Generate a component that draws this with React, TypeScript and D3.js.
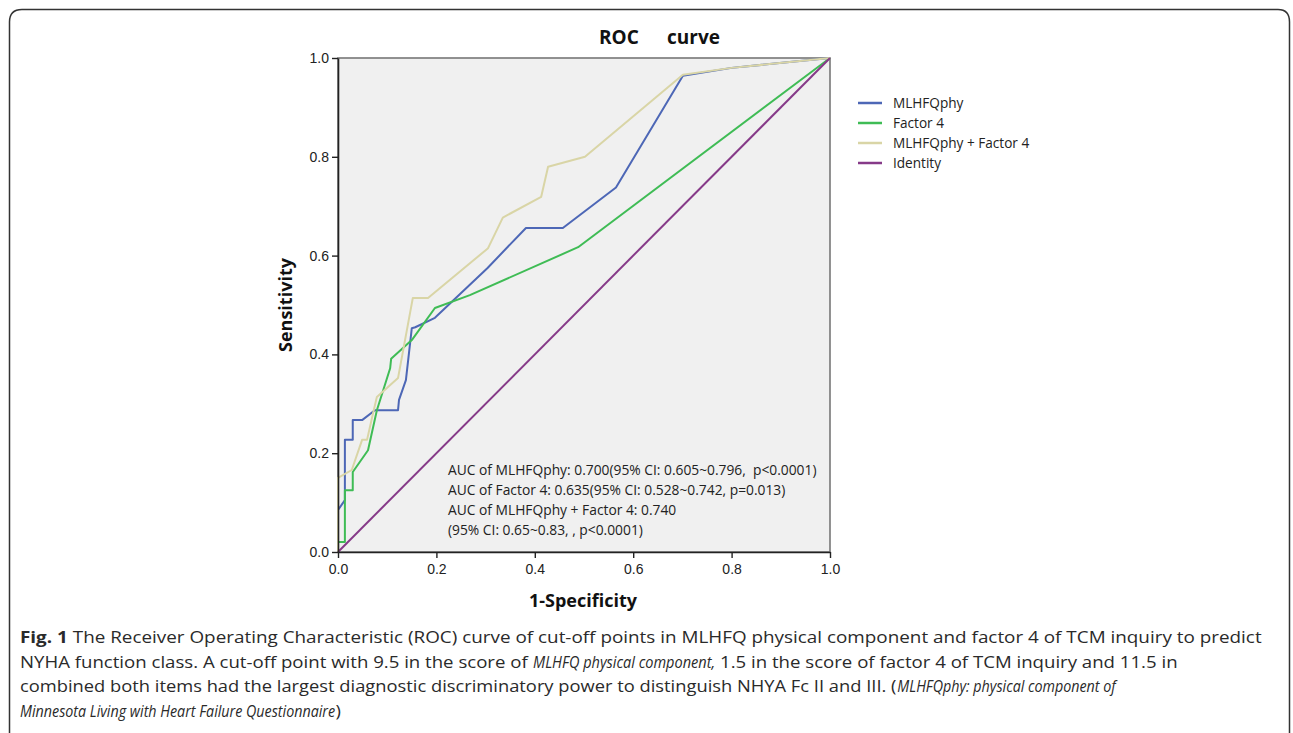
import React, { useEffect, useRef } from 'react';
import * as d3 from 'd3';

// ROC points: [1-specificity, sensitivity]
const mlhfqPhy: [number, number][] = [
  [0, 0], [0, 0.085], [0.014, 0.105], [0.014, 0.227], [0.03, 0.227], [0.03, 0.267],
  [0.049, 0.267], [0.075, 0.287], [0.122, 0.287], [0.124, 0.308], [0.138, 0.348],
  [0.15, 0.453], [0.157, 0.455], [0.197, 0.474], [0.304, 0.575], [0.382, 0.656],
  [0.457, 0.656], [0.565, 0.738], [0.701, 0.964], [0.8, 0.98], [1, 1],
];
const factor4: [number, number][] = [
  [0, 0], [0, 0.02], [0.014, 0.02], [0.014, 0.125], [0.03, 0.125], [0.03, 0.162],
  [0.061, 0.206], [0.079, 0.287], [0.106, 0.372], [0.108, 0.391], [0.15, 0.429],
  [0.197, 0.494], [0.268, 0.52], [0.488, 0.617], [1, 1],
];
const combined: [number, number][] = [
  [0, 0], [0, 0.15], [0.028, 0.166], [0.049, 0.227], [0.059, 0.227], [0.069, 0.271],
  [0.079, 0.314], [0.122, 0.352], [0.152, 0.514], [0.183, 0.514], [0.305, 0.615],
  [0.335, 0.677], [0.413, 0.719], [0.427, 0.78], [0.502, 0.8], [0.701, 0.966],
  [0.8, 0.98], [1, 1],
];
const identity: [number, number][] = [[0, 0], [1, 1]];

const seriesNames = ['MLHFQphy', 'Factor 4', 'MLHFQphy + Factor 4', 'Identity'];
const seriesColors = ['#4d67b6', '#3fbc55', '#d9d5a6', '#863a88'];
const axisTicks = [0, 0.2, 0.4, 0.6, 0.8, 1.0];

const aucLines = [
  'AUC of MLHFQphy: 0.700(95% CI: 0.605~0.796,  p<0.0001)',
  'AUC of Factor 4: 0.635(95% CI: 0.528~0.742, p=0.013)',
  'AUC of MLHFQphy + Factor 4: 0.740',
  '(95% CI: 0.65~0.83, , p<0.0001)',
];

// caption lines: [text, bold?, italic?] segments, plus the width each line takes (0 = same squeeze as the line above)
const captionLines: { parts: [string, boolean, boolean][]; len: number }[] = [
  { parts: [['Fig. 1', true, false], [' The Receiver Operating Characteristic (ROC) curve of cut-off points in MLHFQ physical component and factor 4 of TCM inquiry to predict', false, false]], len: 1242 },
  { parts: [['NYHA function class. A cut-off point with 9.5 in the score of ', false, false], ['MLHFQ physical component,', false, true], [' 1.5 in the score of factor 4 of TCM inquiry and 11.5 in', false, false]], len: 1158 },
  { parts: [['combined both items had the largest diagnostic discriminatory power to distinguish NHYA Fc II and III. (', false, false], ['MLHFQphy: physical component of', false, true]], len: 1096 },
  { parts: [['Minnesota Living with Heart Failure Questionnaire', false, true], [')', false, false]], len: 0 },
];
const italicSqueeze = 0.78; // the figure's italic face is narrower than its roman

const W = 1293;
const H = 733;
const margin = { left: 338, top: 58, right: 830, bottom: 552 };
const sans = '"Open Sans", sans-serif';

const App = () => {
  const xAxisRef = useRef<SVGGElement>(null);
  const yAxisRef = useRef<SVGGElement>(null);
  const captionRef = useRef<SVGGElement>(null);

  const x = d3.scaleLinear().domain([0, 1]).range([margin.left, margin.right]);
  const y = d3.scaleLinear().domain([0, 1]).range([margin.bottom, margin.top]);
  const line = d3.line<[number, number]>().x(d => x(d[0])).y(d => y(d[1]));
  const series = [mlhfqPhy, factor4, combined, identity];

  useEffect(() => {
    const fmt = d3.format('.1f');
    const xa = d3.select(xAxisRef.current!);
    xa.call(d3.axisBottom(x).tickValues(axisTicks).tickFormat(d => fmt(d as number)).tickSize(6).tickSizeOuter(0) as any);
    const ya = d3.select(yAxisRef.current!);
    ya.call(d3.axisLeft(y).tickValues(axisTicks).tickFormat(d => fmt(d as number)).tickSize(6).tickSizeOuter(0) as any);
    [xa, ya].forEach(g => {
      g.select('.domain').attr('stroke', '#222').attr('stroke-width', 1.6);
      g.selectAll('.tick line').attr('stroke', '#222').attr('stroke-width', 1.4);
      g.selectAll('.tick text')
        .attr('fill', '#222')
        .attr('font-family', '"Liberation Sans", Arial, sans-serif')
        .attr('font-size', 14);
    });
    xa.selectAll('.tick text').attr('dy', '0.9em');

    // lay out caption segments one after another, squeezed to the width each line has in the figure
    let k = 1;
    d3.select(captionRef.current!).selectAll<SVGGElement, unknown>('g.cap-line').each(function (_, i) {
      const segs = Array.from(this.querySelectorAll('text')) as SVGTextElement[];
      const ws = segs.map(s => s.getComputedTextLength());
      const f = captionLines[i].parts.map(p => (p[2] ? italicSqueeze : 1));
      const natural = d3.sum(ws, (w, j) => w * f[j]);
      if (captionLines[i].len > 0) k = captionLines[i].len / natural;
      let offset = 20;
      segs.forEach((s, j) => {
        d3.select(s).attr('transform', `translate(${offset},${643 + i * 24.5}) scale(${k * f[j]},1)`);
        offset += ws[j] * k * f[j];
      });
    });
  }, []);

  return (
    <svg width={W} height={H} style={{ position: 'absolute', left: 0, top: 0, background: '#fff' }}>
      {/* outer rounded frame */}
      <path
        d={`M9.5,${H + 10} L9.5,22 Q9.5,9.5 22,9.5 L1278,9.5 Q1289.5,9.5 1289.5,22 L1289.5,${H + 10}`}
        fill="none"
        stroke="#333"
        strokeWidth={1.5}
      />

      {/* title */}
      <text y={44} fontFamily={sans} fontWeight="bold" fontSize={19} fill="#111">
        <tspan x={599}>ROC</tspan>
        <tspan x={667}>curve</tspan>
      </text>

      {/* plot area */}
      <rect x={margin.left} y={margin.top} width={margin.right - margin.left} height={margin.bottom - margin.top}
        fill="#f0f0f0" stroke="#777" strokeWidth={1.6} />

      {series.map((s, i) => (
        <path key={i} d={line(s) || ''} fill="none" stroke={seriesColors[i]} strokeWidth={2} strokeLinejoin="round" />
      ))}

      <g ref={xAxisRef} transform={`translate(0,${margin.bottom})`} />
      <g ref={yAxisRef} transform={`translate(${margin.left},0)`} />

      {/* axis titles */}
      <text x={583} y={607} textAnchor="middle" fontFamily={sans} fontWeight="bold" fontSize={18} fill="#111">
        1-Specificity
      </text>
      <text transform={`translate(292,${(margin.top + margin.bottom) / 2}) rotate(-90)`} textAnchor="middle"
        fontFamily={sans} fontWeight="bold" fontSize={18} fill="#111">
        Sensitivity
      </text>

      {/* AUC annotations */}
      {aucLines.map((t, i) => (
        <text key={i} x={448} y={475 + i * 20} fontFamily={sans} fontSize={13.8} fill="#222" xmlSpace="preserve">
          {t}
        </text>
      ))}

      {/* legend */}
      {seriesNames.map((n, i) => (
        <g key={n} transform={`translate(858,${103 + i * 20})`}>
          <line x1={0} x2={24} y1={0} y2={0} stroke={seriesColors[i]} strokeWidth={2.5} />
          <text x={35} y={5} fontFamily={sans} fontSize={13.6} fill="#222">{n}</text>
        </g>
      ))}

      {/* caption */}
      <g ref={captionRef}>
        {captionLines.map((ln, i) => (
          <g key={i} className="cap-line">
            {ln.parts.map(([t, b, it], j) => (
              <text key={j} transform={`translate(20,${643 + i * 24.5})`} fontFamily={sans} fontSize={16.5}
                fill="#2a2a2a" xmlSpace="preserve" fontWeight={b ? 'bold' : 'normal'} fontStyle={it ? 'italic' : 'normal'}>
                {t}
              </text>
            ))}
          </g>
        ))}
      </g>
    </svg>
  );
};

export default App;
